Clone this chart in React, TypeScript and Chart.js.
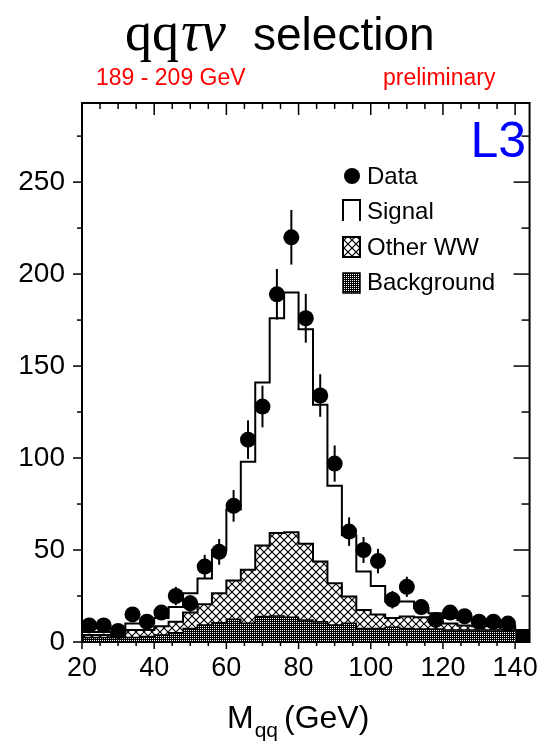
import { useEffect, useRef } from 'react';
import { Chart, registerables } from 'chart.js';
Chart.register(...registerables);

// ---- data ----
const binWidth = 4;
const binLowEdges = [20, 24, 28, 32, 36, 40, 44, 48, 52, 56, 60, 64, 68, 72, 76, 80, 84, 88, 92, 96, 100, 104, 108, 112, 116, 120, 124, 128, 132, 136, 140];
const dataCounts: (number | null)[] = [9, 9, 6, 15, 11, 16, 25, 21, 41, 49, 74, 110, 128, 189, 220, 176, 134, 97, 60, 50, 44, 23, 30, 19, 12, 16, 14, 11, 11, 10, null];
const backgroundVals = [2.5, 2.5, 2.5, 2.5, 3, 3.8, 5, 7.4, 9.3, 10.5, 12.4, 10.2, 13.8, 14.2, 13.4, 12, 11, 9.3, 10.2, 7.4, 7.4, 8, 7.4, 7, 7, 6.5, 6.5, 6.5, 6.5, 6.5, 6.5];
const otherWWVals = [1.3, 1.3, 0.5, 4, 3.5, 4.7, 6, 8.6, 11.2, 16, 21, 29.1, 38.7, 45.1, 46.2, 41.4, 32.8, 22.7, 14.5, 10, 7.6, 5, 6.4, 6.5, 4, 3.5, 2.5, 2, 2, 1.5, 0];
const signalVals = [1.7, 1.7, 2, 3.5, 3.5, 4.5, 8, 10.5, 14, 23.5, 38.6, 58.7, 88.5, 116.7, 130.4, 116.6, 85.2, 53, 33.3, 20.9, 15.5, 9, 8.2, 5, 4.6, 3, 3, 2, 1, 1, 0];
const xTickVals = [20, 40, 60, 80, 100, 120, 140];
const yTickVals = [0, 50, 100, 150, 200, 250];
const xRange = [20, 144];
const yRange = [0, 293];
const legendLabels = ['Data', 'Signal', 'Other WW', 'Background'];

const SANS = "'Liberation Sans', Arial, Helvetica, sans-serif";
const SERIF = "'Liberation Serif', 'DejaVu Serif', serif";

function stepPts(vals: number[]) {
  const pts = vals.map((v, i) => ({ x: binLowEdges[i], y: v }));
  const last = vals.length - 1;
  pts.push({ x: binLowEdges[last] + binWidth, y: vals[last] });
  return pts;
}

function makeHatch(): CanvasPattern {
  const s = 8;
  const c = document.createElement('canvas');
  c.width = s; c.height = s;
  const g = c.getContext('2d')!;
  g.fillStyle = '#fff';
  g.fillRect(0, 0, s, s);
  g.strokeStyle = '#000';
  g.lineWidth = 1.2;
  g.beginPath();
  g.moveTo(-1, -1); g.lineTo(s + 1, s + 1);
  g.moveTo(-1, s + 1); g.lineTo(s + 1, -1);
  g.stroke();
  return g.createPattern(c, 'repeat')!;
}

function makeDots(): CanvasPattern {
  const c = document.createElement('canvas');
  c.width = 2; c.height = 2;
  const g = c.getContext('2d')!;
  g.fillStyle = '#000';
  g.fillRect(0, 0, 2, 2);
  g.fillStyle = '#fff';
  g.fillRect(0, 0, 1, 1);
  return g.createPattern(c, 'repeat')!;
}

export default function App() {
  const ref = useRef<HTMLCanvasElement>(null);
  useEffect(() => {
    const canvas = ref.current!;
    const hatch = makeHatch();
    const dots = makeDots();
    const lastIdx = binLowEdges.length - 1;

    const dataPts = dataCounts
      .map((v, i) => (v == null ? null : { x: binLowEdges[i] + binWidth / 2, y: v }))
      .filter(Boolean) as { x: number; y: number }[];

    const errorPlugin = {
      id: 'errs',
      beforeDatasetDraw(chart: any, args: any) {
        if (args.index !== 3) return;
        const { ctx, scales } = chart;
        ctx.save();
        ctx.strokeStyle = '#000';
        ctx.lineWidth = 2;
        dataPts.forEach((p) => {
          const e = Math.sqrt(p.y);
          const px = scales.x.getPixelForValue(p.x);
          ctx.beginPath();
          ctx.moveTo(px, scales.y.getPixelForValue(p.y - e));
          ctx.lineTo(px, scales.y.getPixelForValue(p.y + e));
          ctx.stroke();
        });
        ctx.restore();
      },
    };

    const framePlugin = {
      id: 'frame',
      afterDatasetsDraw(chart: any) {
        const { ctx, chartArea: a, scales } = chart;
        const x = scales.x, y = scales.y;
        const line = (x1: number, y1: number, x2: number, y2: number) => {
          ctx.beginPath(); ctx.moveTo(x1, y1); ctx.lineTo(x2, y2); ctx.stroke();
        };
        ctx.save();
        ctx.strokeStyle = '#000';
        ctx.lineWidth = 1.5;
        for (let v = xRange[0]; v <= xRange[1]; v += 5) {
          const px = x.getPixelForValue(v);
          const major = v % 20 === 0;
          line(px, a.bottom, px, a.bottom + (major ? 7 : 4));
          line(px, a.top, px, a.top + (major ? 12 : 6));
        }
        for (let v = yRange[0]; v <= yRange[1]; v += 25) {
          const py = y.getPixelForValue(v);
          const major = v % 50 === 0;
          line(a.left - (major ? 9 : 5), py, a.left, py);
          line(a.right - (major ? 16 : 8), py, a.right, py);
        }
        ctx.lineWidth = 2;
        ctx.strokeRect(a.left, a.top, a.right - a.left, a.bottom - a.top);
        ctx.restore();
      },
      afterDraw(chart: any) {
        const { ctx } = chart;
        ctx.save();
        ctx.textBaseline = 'alphabetic';
        ctx.textAlign = 'left';
        ctx.fillStyle = '#000';
        // title
        ctx.font = `54px ${SERIF}`;
        ctx.fillText('qq', 125, 50);
        const wq = ctx.measureText('qq').width;
        ctx.font = `italic 56px ${SERIF}`;
        ctx.fillText('τν', 125 + wq + 2, 50);
        ctx.font = `46px ${SANS}`;
        ctx.fillText('selection', 253, 50);
        // subtitles
        ctx.fillStyle = '#ff0000';
        ctx.font = `23px ${SANS}`;
        ctx.fillText('189 - 209 GeV', 96, 85);
        ctx.fillText('preliminary', 383, 85);
        // L3
        ctx.fillStyle = '#0000ff';
        ctx.font = `50px ${SANS}`;
        ctx.textAlign = 'right';
        ctx.fillText('L3', 526, 157);
        ctx.textAlign = 'left';
        // legend
        ctx.fillStyle = '#000';
        ctx.beginPath();
        ctx.arc(352, 176, 8, 0, Math.PI * 2);
        ctx.fill();
        ctx.strokeStyle = '#000';
        ctx.lineWidth = 2;
        ctx.beginPath();
        ctx.moveTo(343, 221); ctx.lineTo(343, 200); ctx.lineTo(360, 200); ctx.lineTo(360, 221);
        ctx.stroke();
        ctx.fillStyle = hatch;
        ctx.fillRect(343, 237, 17, 20);
        ctx.strokeRect(343, 237, 17, 20);
        ctx.fillStyle = dots;
        ctx.fillRect(343, 273, 17, 20);
        ctx.lineWidth = 1.5;
        ctx.strokeRect(343, 273, 17, 20);
        ctx.fillStyle = '#000';
        ctx.font = `24px ${SANS}`;
        ctx.fillText(legendLabels[0], 367, 184);
        ctx.fillText(legendLabels[1], 367, 219);
        ctx.fillText(legendLabels[2], 367, 255);
        ctx.fillText(legendLabels[3], 367, 290);
        // x axis title
        ctx.font = `32px ${SANS}`;
        ctx.fillText('M', 227, 728);
        const wm = ctx.measureText('M').width;
        ctx.font = `21px ${SANS}`;
        ctx.fillText('qq', 227 + wm + 1, 737);
        ctx.font = `32px ${SANS}`;
        ctx.fillText('(GeV)', 284, 728);
        ctx.restore();
      },
    };

    const chart = new Chart(canvas, {
      type: 'line',
      data: {
        datasets: [
          {
            label: 'Background',
            data: stepPts(backgroundVals),
            yAxisID: 'yS',
            stepped: 'before',
            borderColor: '#000',
            borderWidth: 1.5,
            backgroundColor: dots,
            fill: 'origin',
            pointRadius: 0,
            order: 1,
            segment: {
              backgroundColor: (c: any) => (c.p0DataIndex === lastIdx ? '#000' : undefined),
            },
          } as any,
          {
            label: 'Other WW',
            data: stepPts(otherWWVals),
            yAxisID: 'yS',
            stepped: 'before',
            borderColor: '#000',
            borderWidth: 2,
            backgroundColor: hatch,
            fill: '-1',
            pointRadius: 0,
            order: 1,
          },
          {
            label: 'Signal',
            data: stepPts(signalVals),
            yAxisID: 'yS',
            stepped: 'before',
            borderColor: '#000',
            borderWidth: 2,
            fill: false,
            pointRadius: 0,
            order: 1,
          },
          {
            label: 'Data',
            type: 'scatter',
            data: dataPts,
            yAxisID: 'y',
            pointRadius: 8,
            pointBackgroundColor: '#000',
            pointBorderColor: '#000',
            pointBorderWidth: 0,
            showLine: false,
            order: 0,
          } as any,
        ],
      },
      options: {
        animation: false,
        responsive: true,
        maintainAspectRatio: false,
        events: [],
        layout: { padding: { left: 0, right: 11, top: 103, bottom: 0 } },
        plugins: { legend: { display: false }, tooltip: { enabled: false }, title: { display: false } },
        scales: {
          x: {
            type: 'linear',
            min: xRange[0],
            max: xRange[1],
            afterBuildTicks: (s: any) => { s.ticks = xTickVals.map((v) => ({ value: v })); },
            grid: { display: true, color: 'rgba(0,0,0,0)', drawOnChartArea: false, drawTicks: true, tickLength: 7 },
            border: { display: false },
            ticks: { font: { family: SANS, size: 27 }, color: '#000', padding: 3, maxRotation: 0, autoSkip: false },
            afterFit: (s: any) => { s.height = 99; },
          },
          y: {
            type: 'linear',
            min: yRange[0],
            max: yRange[1],
            afterBuildTicks: (s: any) => { s.ticks = yTickVals.map((v) => ({ value: v })); },
            grid: { display: true, color: 'rgba(0,0,0,0)', drawOnChartArea: false, drawTicks: true, tickLength: 9 },
            border: { display: false },
            ticks: { font: { family: SANS, size: 28 }, color: '#000', padding: 8, autoSkip: false },
            afterFit: (s: any) => { s.width = 82; },
          },
          yS: {
            type: 'linear',
            display: false,
            stacked: true,
            min: yRange[0],
            max: yRange[1],
          },
        },
      },
      plugins: [errorPlugin, framePlugin],
    } as any);
    return () => chart.destroy();
  }, []);
  return (
    <div style={{ position: 'fixed', left: 0, top: 0, width: 541, height: 741, background: '#fff' }}>
      <canvas ref={ref} />
    </div>
  );
}
